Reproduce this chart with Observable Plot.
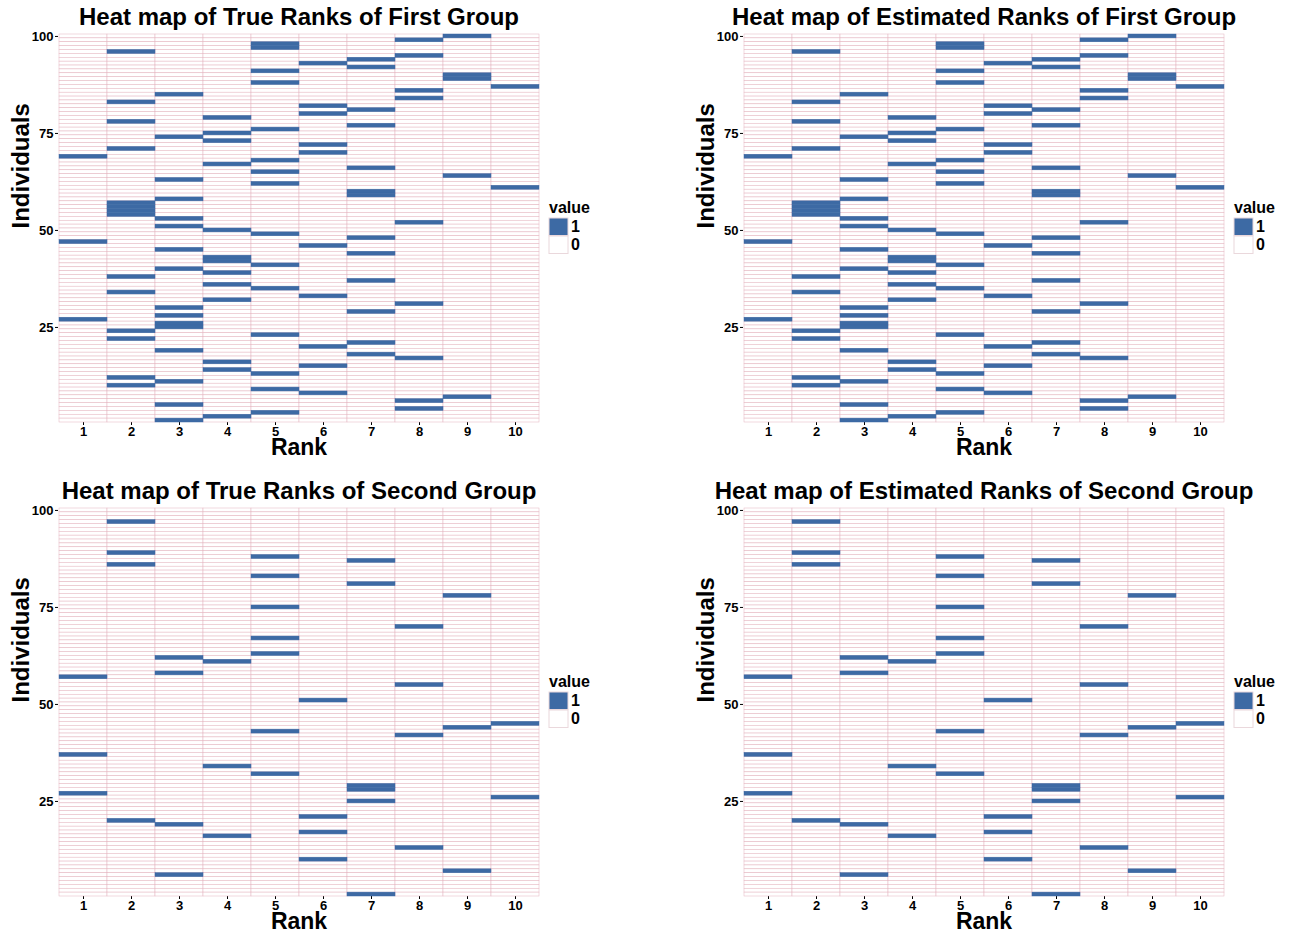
<!DOCTYPE html>
<html>
<head>
<meta charset="utf-8">
<script src="https://cdn.jsdelivr.net/npm/d3@7"></script>
<script src="https://cdn.jsdelivr.net/npm/@observablehq/plot@0.6"></script>
<style>
  html, body { margin: 0; padding: 0; background: white; }
  body { width: 1289px; height: 932px; position: relative; overflow: hidden; font-family: 'Liberation Sans', Arial, sans-serif; }
  .panel { position: absolute; }
  .legtitle { position: absolute; font: bold 16px 'Liberation Sans', Arial, sans-serif; line-height: 16px; color: black; }
  .legwrap { position: absolute; }
  .legwrap div { font: bold 16px 'Liberation Sans', Arial, sans-serif !important; margin: 0 !important; padding: 0 !important; line-height: 17.5px !important; color: black; }
  .legwrap svg { margin-right: 3px !important; }
  .legwrap svg rect { stroke: #ead8dc; stroke-width: 1px; }
</style>
</head>
<body>
<script>
// ---- data ----
const ranks = [1, 2, 3, 4, 5, 6, 7, 8, 9, 10];
const individuals = d3.range(100, 0, -1); // 100 at top
const yTicks = [25, 50, 75, 100];
const valueLevels = [1, 0];

// individuals with value 1 in each rank (index 0 = rank 1)
const trueFirstOnes = [
  [69, 47, 27],
  [96, 83, 78, 71, 57, 56, 55, 54, 38, 34, 24, 22, 12, 10],
  [85, 74, 63, 58, 53, 51, 45, 40, 30, 28, 26, 25, 19, 11, 5, 1],
  [79, 75, 73, 67, 50, 43, 42, 39, 36, 32, 16, 14, 2],
  [98, 97, 91, 88, 76, 68, 65, 62, 49, 41, 35, 23, 13, 9, 3],
  [93, 82, 80, 72, 70, 46, 33, 20, 15, 8],
  [94, 92, 81, 77, 66, 60, 59, 48, 44, 37, 29, 21, 18],
  [99, 95, 86, 84, 52, 31, 17, 6, 4],
  [100, 90, 89, 64, 7],
  [87, 61]
];
const estFirstOnes = [
  [69, 47, 27],
  [96, 83, 78, 71, 57, 56, 55, 54, 38, 34, 24, 22, 12, 10],
  [85, 74, 63, 58, 53, 51, 45, 40, 30, 28, 26, 25, 19, 11, 5, 1],
  [79, 75, 73, 67, 50, 43, 42, 39, 36, 32, 16, 14, 2],
  [98, 97, 91, 88, 76, 68, 65, 62, 49, 41, 35, 23, 13, 9, 3],
  [93, 82, 80, 72, 70, 46, 33, 20, 15, 8],
  [94, 92, 81, 77, 66, 60, 59, 48, 44, 37, 29, 21, 18],
  [99, 95, 86, 84, 52, 31, 17, 6, 4],
  [100, 90, 89, 64, 7],
  [87, 61]
];
const trueSecondOnes = [
  [57, 37, 27],
  [97, 89, 86, 20],
  [62, 58, 19, 6],
  [61, 34, 16],
  [88, 83, 75, 67, 63, 43, 32],
  [51, 21, 17, 10],
  [87, 81, 29, 28, 25, 1],
  [70, 55, 42, 13],
  [78, 44, 7],
  [45, 26]
];
const estSecondOnes = [
  [57, 37, 27],
  [97, 89, 86, 20],
  [62, 58, 19, 6],
  [61, 34, 16],
  [88, 83, 75, 67, 63, 43, 32],
  [51, 21, 17, 10],
  [87, 81, 29, 28, 25, 1],
  [70, 55, 42, 13],
  [78, 44, 7],
  [45, 26]
];
const titles = [
  "Heat map of True Ranks of First Group",
  "Heat map of Estimated Ranks of First Group",
  "Heat map of True Ranks of Second Group",
  "Heat map of Estimated Ranks of Second Group"
];

// ---- style ----
const BLUE = "#3d6aa4";
const FONT = "'Liberation Sans', Arial, sans-serif";

function grid(ones) {
  const out = [];
  for (const ind of individuals)
    for (const r of ranks)
      out.push({rank: r, ind, value: ones[r - 1].includes(ind) ? 1 : 0});
  return out;
}

function panel(ones, title, left, top, width) {
  const H = 462;
  const plotRight = 539;
  const data = grid(ones);
  const chart = Plot.plot({
    width: width,
    height: H,
    marginLeft: 58,
    marginRight: width - plotRight,
    marginTop: 34,
    marginBottom: H - 422,
    style: {fontFamily: FONT, fontSize: "13px", fontWeight: "bold", color: "black", background: "white", overflow: "visible"},
    x: {type: "band", domain: ranks, padding: 0, label: null, tickSize: 3, tickPadding: 1},
    y: {type: "band", domain: individuals, padding: 0, label: null, ticks: yTicks, tickSize: 3, tickPadding: 2},
    color: {type: "ordinal", domain: valueLevels, range: [BLUE, "white"]},
    marks: [
      Plot.cell(data.filter(d => d.value === 0), {x: "rank", y: "ind", fill: "value", stroke: "#e4b3be", strokeWidth: 0.5, inset: 0}),
      Plot.cell(data.filter(d => d.value === 1), {x: "rank", y: "ind", fill: "value", stroke: BLUE, strokeWidth: 0.5, inset: 0}),
      Plot.text([title], {text: d => d, frameAnchor: "top", lineAnchor: "middle", dy: -17.5, fontSize: 24, fontWeight: "bold", fill: "black"}),
      Plot.text(["Rank"], {text: d => d, frameAnchor: "bottom", lineAnchor: "middle", dy: 25, fontSize: 23, fontWeight: "bold", fill: "black"}),
      Plot.text(["Individuals"], {text: d => d, frameAnchor: "left", lineAnchor: "middle", dx: -37, rotate: -90, fontSize: 24, fontWeight: "bold", fill: "black"})
    ]
  });
  const div = document.createElement("div");
  div.className = "panel";
  div.style.left = left + "px";
  div.style.top = top + "px";
  div.appendChild(chart);

  const lt = document.createElement("div");
  lt.className = "legtitle";
  lt.textContent = "value";
  lt.style.left = "549px";
  lt.style.top = "200px";
  div.appendChild(lt);

  const lw = document.createElement("div");
  lw.className = "legwrap";
  lw.style.left = "549px";
  lw.style.top = "218px";
  lw.appendChild(Plot.legend({
    color: {type: "ordinal", domain: valueLevels, range: [BLUE, "white"]},
    legend: "swatches", columns: 1, swatchWidth: 19, swatchHeight: 17.5
  }));
  div.appendChild(lw);
  document.body.appendChild(div);
}

panel(trueFirstOnes, titles[0], 0, 0, 644);
panel(estFirstOnes, titles[1], 685, 0, 604);
panel(trueSecondOnes, titles[2], 0, 474, 644);
panel(estSecondOnes, titles[3], 685, 474, 604);
</script>
</body>
</html>
